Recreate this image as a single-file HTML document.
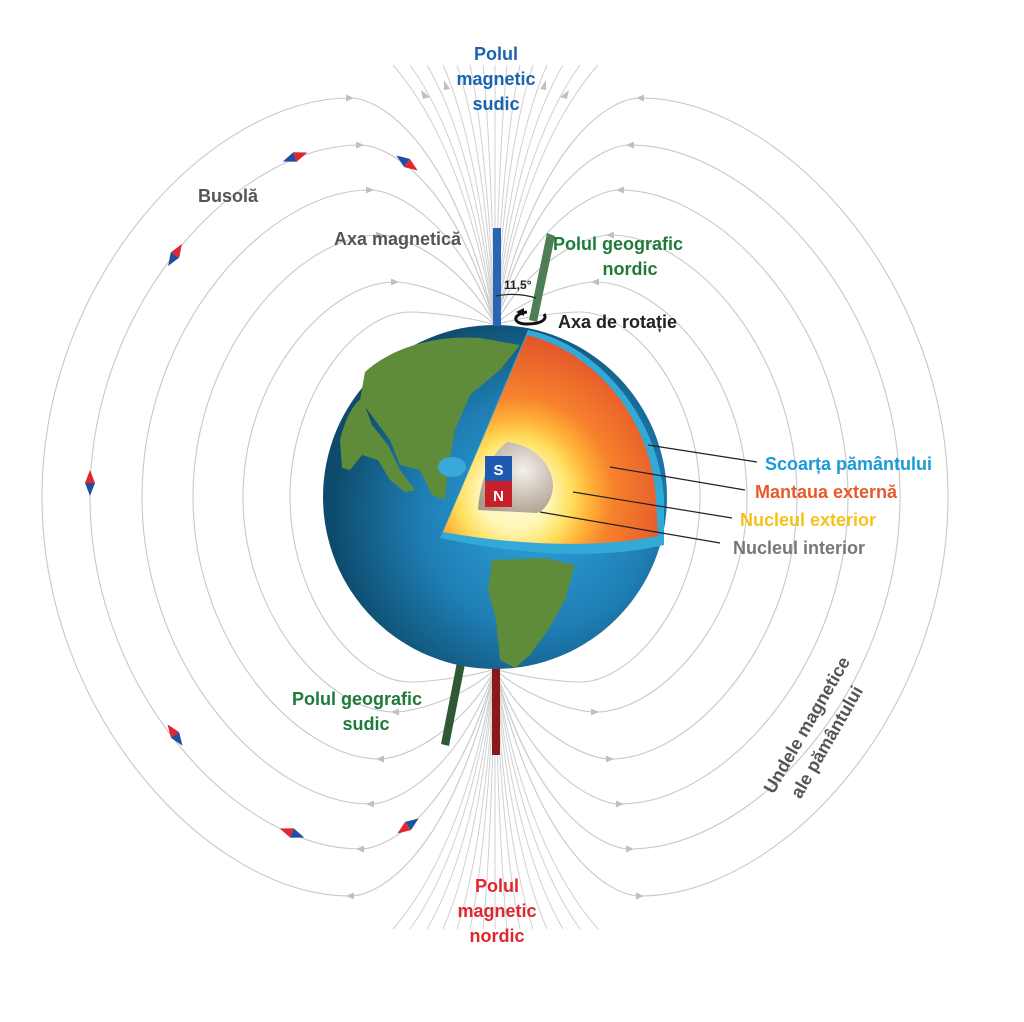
<!DOCTYPE html>
<html><head><meta charset="utf-8"><style>
html,body{margin:0;padding:0;background:#fff;}
svg{display:block;}
text{font-family:"Liberation Sans",sans-serif;font-weight:bold;}
</style></head><body>
<svg width="1024" height="1022" viewBox="0 0 1024 1022" xmlns="http://www.w3.org/2000/svg">
<defs>
<g id="q" fill="none" stroke="#c8c8c8" stroke-width="1.1">
<path d="M0,-172 C-44,-359 -116,-399 -145,-399 C-284,-399 -453,-219 -453,0"/>
<path d="M0,-172 C-40,-317 -108,-352 -135,-352 C-257,-352 -405,-194 -405,0"/>
<path d="M0,-172 C-37,-276 -100,-307 -125,-307 C-228,-307 -353,-169 -353,0"/>
<path d="M0,-172 C-34,-236 -92,-262 -115,-262 C-199,-262 -302,-144 -302,0"/>
<path d="M0,-172 C-30,-200 -80,-215 -100,-215 C-168,-215 -252,-118 -252,0"/>
<path d="M0,-172 C-25,-180 -68,-185 -85,-185 C-139,-185 -205,-102 -205,0"/>
</g>
<g id="fan" fill="none" stroke="#d0d0d0" stroke-width="1">
<path d="M-102,-432 Q-31,-350 0,-172"/><path d="M-85,-432 Q-26,-350 0,-172"/>
<path d="M-68,-432 Q-20,-350 0,-172"/><path d="M-52,-432 Q-16,-350 0,-172"/>
<path d="M-38,-432 Q-11,-350 0,-172"/><path d="M-25,-432 Q-8,-350 0,-172"/>
<path d="M-12,-432 Q-4,-350 0,-172"/><path d="M0,-432 L0,-172"/>
<path d="M12,-432 Q4,-350 0,-172"/><path d="M25,-432 Q8,-350 0,-172"/>
<path d="M38,-432 Q11,-350 0,-172"/><path d="M52,-432 Q16,-350 0,-172"/>
<path d="M68,-432 Q20,-350 0,-172"/><path d="M85,-432 Q26,-350 0,-172"/>
<path d="M103,-432 Q31,-350 0,-172"/>
</g>
<g id="arT" fill="#c0c0c0">
<polygon points="-149,-402.5 -141,-399 -149,-395.5"/>
<polygon points="-139,-355.5 -131,-352 -139,-348.5"/>
<polygon points="-129,-310.5 -121,-307 -129,-303.5"/>
<polygon points="-119,-265.5 -111,-262 -119,-258.5"/>
<polygon points="-104,-218.5 -96,-215 -104,-211.5"/>
</g>
<g id="arB" fill="#c0c0c0">
<polygon points="-141,-402.5 -149,-399 -141,-395.5"/>
<polygon points="-131,-355.5 -139,-352 -131,-348.5"/>
<polygon points="-121,-310.5 -129,-307 -121,-303.5"/>
<polygon points="-111,-265.5 -119,-262 -111,-258.5"/>
<polygon points="-96,-218.5 -104,-215 -96,-211.5"/>
</g>
<g id="cmp"><polygon points="-13,0 0,-5 0,5" fill="#1f4fa0"/><polygon points="13,0 0,-5 0,5" fill="#e0262f"/></g>
<radialGradient id="ocean" cx="0.62" cy="0.55" r="0.6">
<stop offset="0" stop-color="#2ea3dc"/><stop offset="0.55" stop-color="#1f7fb5"/><stop offset="1" stop-color="#0d4a6b"/>
</radialGradient>
<radialGradient id="core" cx="515" cy="495" r="165" gradientUnits="userSpaceOnUse">
<stop offset="0" stop-color="#fffde8"/><stop offset="0.22" stop-color="#fff5b0"/><stop offset="0.34" stop-color="#ffe060"/><stop offset="0.45" stop-color="#ffb53a"/><stop offset="0.6" stop-color="#f7812c"/><stop offset="1" stop-color="#e0502a"/>
</radialGradient>
<radialGradient id="inner" cx="0.6" cy="0.4" r="0.7">
<stop offset="0" stop-color="#f4f0ec"/><stop offset="1" stop-color="#a89a88"/>
</radialGradient>
</defs>

<g transform="translate(495,497)">
<use href="#q"/><use href="#arT"/>
<g transform="scale(-1,1)"><use href="#q"/><use href="#arT"/></g>
<g transform="scale(1,-1)"><use href="#q"/><use href="#arB"/></g>
<g transform="scale(-1,-1)"><use href="#q"/><use href="#arB"/></g>
<use href="#fan"/>
<g transform="scale(1,-1)"><use href="#fan"/></g>
</g>
<g fill="#c0c0c0">
<polygon points="421,90 430,97 423,99"/><polygon points="569,90 560,97 567,99"/>
<polygon points="444,80 450,89 444,90"/><polygon points="546,80 540,89 546,90"/>
</g>

<use href="#cmp" transform="translate(295,157) rotate(-20)"/>
<use href="#cmp" transform="translate(407,163) rotate(35)"/>
<use href="#cmp" transform="translate(175,255) rotate(-58)"/>
<use href="#cmp" transform="translate(90,483) rotate(-90)"/>
<use href="#cmp" transform="translate(175,735) rotate(-125)"/>
<use href="#cmp" transform="translate(292,833) rotate(200)"/>
<use href="#cmp" transform="translate(408,826) rotate(145)"/>

<rect x="492" y="660" width="8" height="95" fill="#8a1a1a"/>
<polygon points="457,662 465,664 449,746 441,744" fill="#2d5a35"/>

<circle cx="495" cy="497" r="172" fill="url(#ocean)"/>
<path d="M365,372 C395,345 440,335 480,338 L520,345 L500,370 L470,395 L455,430 L448,470 L445,500 L432,495 L420,470 L400,465 L390,440 L375,420 L360,400 Z" fill="#5e8c3b"/>
<path d="M340,440 C345,420 352,405 362,398 L372,425 L388,445 L400,470 L415,490 L405,492 L390,480 L378,460 L362,455 L350,470 L342,468 Z" fill="#5e8c3b"/>
<path d="M492,560 L545,558 L575,565 L565,600 L548,630 L530,655 L515,668 L500,660 L496,620 L488,590 Z" fill="#5e8c3b"/>
<ellipse cx="452" cy="467" rx="14" ry="10" fill="#3aa8d8"/>
<path d="M440,538 L528,330 C600,345 660,420 664,500 L664,545 C600,560 520,555 440,538 Z" fill="#33a9d8"/>
<path d="M443,532 L527,335 C596,352 652,420 656,500 L658,536 C600,548 520,546 443,532 Z" fill="url(#core)"/>
<path d="M507,442 C535,445 553,465 553,487 C552,500 545,510 537,513 L478,510 C480,480 490,455 507,442 Z" fill="url(#inner)"/>
<rect x="485" y="456" width="27" height="25" fill="#1e5bb0"/>
<rect x="485" y="481" width="27" height="26" fill="#c8202a"/>
<text x="498.5" y="475" font-size="15" fill="#fff" text-anchor="middle">S</text>
<text x="498.5" y="501" font-size="15" fill="#fff" text-anchor="middle">N</text>

<rect x="493" y="228" width="8" height="98" fill="#2a64b8"/>
<polygon points="547,233 555,236 537,322 529,320" fill="#4f7d55"/>
<path d="M496,296 Q516,292 536,298" fill="none" stroke="#222" stroke-width="1.2"/>
<text x="504" y="289" font-size="12" fill="#222">11,5°</text>
<path d="M527,312 C512,314 512,324 527,324 C540,324 548,320 544,314" fill="none" stroke="#111" stroke-width="3"/>
<polygon points="516,312 524,308 524,316" fill="#111"/>

<g stroke="#222" stroke-width="1.2">
<line x1="648" y1="445" x2="757" y2="462"/>
<line x1="610" y1="467" x2="745" y2="490"/>
<line x1="573" y1="492" x2="732" y2="518"/>
<line x1="540" y1="512" x2="720" y2="543"/>
</g>

<g font-size="18">
<text x="496" y="60" fill="#1a64b0" text-anchor="middle">Polul</text>
<text x="496" y="85" fill="#1a64b0" text-anchor="middle">magnetic</text>
<text x="496" y="110" fill="#1a64b0" text-anchor="middle">sudic</text>
<text x="198" y="202" fill="#555">Busolă</text>
<text x="334" y="245" fill="#555">Axa magnetică</text>
<text x="553" y="250" fill="#1f7a3a">Polul geografic</text>
<text x="630" y="275" fill="#1f7a3a" text-anchor="middle">nordic</text>
<text x="558" y="328" fill="#222">Axa de rotație</text>
<text x="765" y="470" fill="#1a9ad6">Scoarța pământului</text>
<text x="755" y="498" fill="#e85a2a">Mantaua externă</text>
<text x="740" y="526" fill="#f6c21a">Nucleul exterior</text>
<text x="733" y="554" fill="#777">Nucleul interior</text>
<text x="292" y="705" fill="#1f7a3a">Polul geografic</text>
<text x="366" y="730" fill="#1f7a3a" text-anchor="middle">sudic</text>
<text x="497" y="892" fill="#e0262f" text-anchor="middle">Polul</text>
<text x="497" y="917" fill="#e0262f" text-anchor="middle">magnetic</text>
<text x="497" y="942" fill="#e0262f" text-anchor="middle">nordic</text>
<text transform="translate(812,728) rotate(-60)" fill="#555" text-anchor="middle">Undele magnetice</text>
<text transform="translate(832,745) rotate(-60)" fill="#555" text-anchor="middle">ale pământului</text>
</g>
</svg>
</body></html>
